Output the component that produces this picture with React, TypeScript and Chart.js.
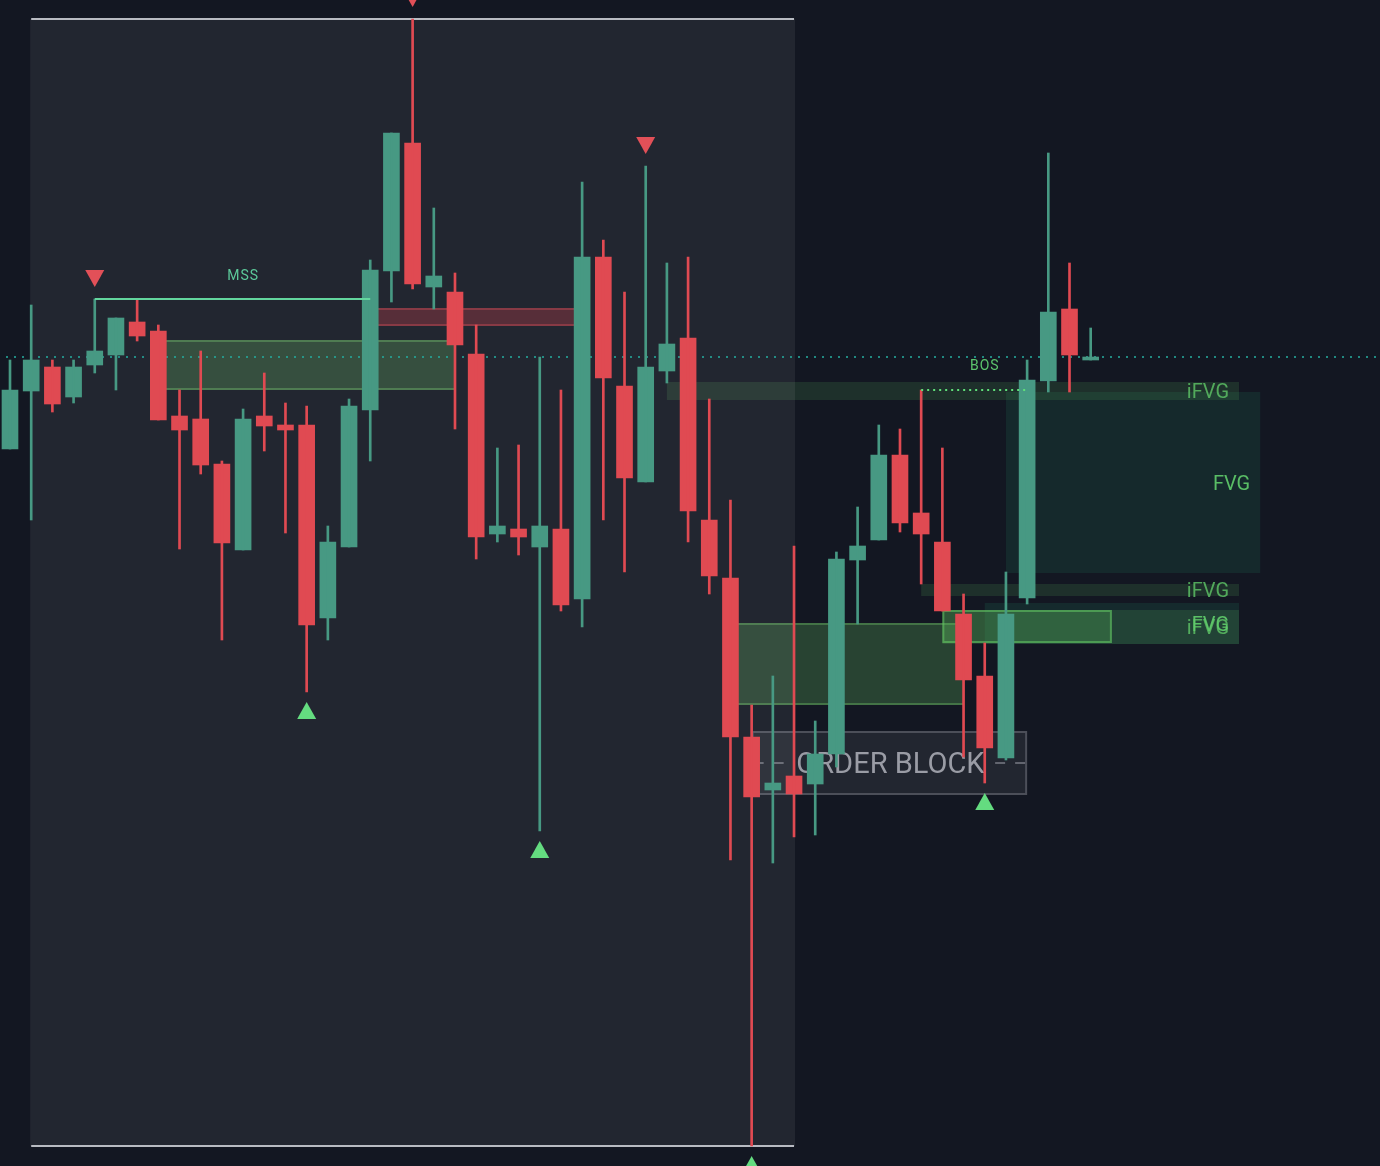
import React, { useEffect, useRef } from 'react';
import { Chart, registerables } from 'chart.js';

Chart.register(...registerables);

// ---- Candles (price units) ----
const OPEN = [717, 775, 799, 769, 801, 811, 844, 835, 750, 747, 702, 616, 750, 741, 741, 548, 619, 756, 895, 1023, 879, 874, 812, 632, 637, 619, 637, 567, 909, 780, 684, 795, 828, 646, 588, 429, 376, 390, 382, 412, 606, 626, 711, 653, 624, 552, 490, 408, 568, 785, 857, 806];
const HIGH = [806, 861, 806, 806, 867, 848, 866, 841, 776, 815, 705, 757, 793, 763, 760, 640, 767, 906, 1033, 1147, 958, 893, 841, 718, 721, 809, 776, 984, 926, 874, 1000, 903, 909, 767, 666, 461, 490, 620, 445, 614, 659, 741, 737, 776, 718, 572, 523, 594, 806, 1013, 903, 838];
const LOW = [717, 646, 754, 763, 793, 776, 825, 746, 617, 692, 526, 616, 715, 633, 474, 526, 619, 705, 864, 877, 857, 737, 607, 624, 611, 335, 555, 539, 646, 594, 684, 783, 624, 572, 306, 20, 303, 329, 331, 399, 542, 626, 634, 582, 555, 409, 383, 406, 562, 774, 774, 806];
const CLOSE = [776, 806, 762, 799, 815, 848, 830, 746, 736, 701, 623, 747, 740, 736, 541, 624, 760, 896, 1033, 882, 890, 821, 629, 640, 629, 640, 561, 909, 788, 688, 799, 822, 655, 590, 429, 369, 383, 372, 412, 607, 620, 711, 643, 632, 555, 486, 418, 552, 786, 854, 811, 809];

// ---- Structure / markers ----
const SWING_HIGHS = [4, 19, 30];
const SWING_LOWS = [14, 25, 35, 46];
const MSS_RANGE = [4, 17];
const MSS_LABEL_AT = 11;
const BOS_RANGE = [43, 48];
const BOS_LABEL_AT = 46;
const REF_LEVEL = 810;
const RANGE_BOX = [1, 37];

// ---- Zones: [fromIndex, toIndex, top, bottom] ----
const GREEN_ZONES = [[7, 21, 826, 776], [34, 45, 543, 461]];
const RED_ZONES = [[17, 27, 858, 840]];
const IFVG_ZONES = [[31, 58, 784, 766], [43, 58, 582, 570], [44, 58, 556, 522]];
const FVG_ZONES = [[47, 59, 774, 593], [46, 58, 563, 522]];
const OUTLINE_ZONE = [44, 52, 556, 523];
const ORDER_BLOCK = [35, 48, 435, 371];

const X_MIN = -0.472;
const X_MAX = 64.653;
const Y_MIN = 0;
const Y_MAX = 1166;

const BG = '#131722';
const UP = 'rgb(71,153,131)';
const DOWN = 'rgb(224,74,82)';

export default function App() {
  const ref = useRef<HTMLCanvasElement>(null);

  useEffect(() => {
    document.body.style.margin = '0';
    const canvas = ref.current!;
    const colors = OPEN.map((o, i) => (CLOSE[i] >= o ? UP : DOWN));

    const overlay = {
      id: 'overlay',
      beforeDraw(chart: any) {
        const ctx = chart.ctx;
        ctx.save();
        ctx.fillStyle = BG;
        ctx.fillRect(0, 0, chart.width, chart.height);
        ctx.restore();
      },
      beforeDatasetsDraw(chart: any) {
        const ctx = chart.ctx;
        const xs = chart.scales.x;
        const ys = chart.scales.y;
        const px = (v: number) => xs.getPixelForValue(v);
        const py = (v: number) => ys.getPixelForValue(v);
        ctx.save();

        const box = (z: number[], fill: string) => {
          const x0 = px(z[0]), x1 = px(z[1]), y0 = py(z[2]), y1 = py(z[3]);
          ctx.fillStyle = fill;
          ctx.fillRect(x0, y0, x1 - x0, y1 - y0);
          return { x0, x1, y0, y1 };
        };
        const hBorders = (r: any, color: string, w: number) => {
          ctx.fillStyle = color;
          ctx.fillRect(r.x0, r.y0, r.x1 - r.x0, w);
          ctx.fillRect(r.x0, r.y1 - w, r.x1 - r.x0, w);
        };
        const label = (r: any, text: string, color: string) => {
          ctx.font = '20px Roboto';
          ctx.fillStyle = color;
          ctx.textAlign = 'right';
          ctx.textBaseline = 'middle';
          ctx.fillText(text, r.x1 - 10, (r.y0 + r.y1) / 2 + 2);
        };

        // zones
        GREEN_ZONES.forEach((z) => {
          const r = box(z, 'rgba(90,170,90,0.30)');
          hBorders(r, 'rgba(100,175,95,0.45)', 2);
        });
        RED_ZONES.forEach((z) => {
          const r = box(z, 'rgba(230,60,72,0.27)');
          hBorders(r, 'rgba(230,70,80,0.35)', 2);
        });
        const fvgRects = FVG_ZONES.map((z, i) => box(z, i === 0 ? 'rgba(40,170,120,0.12)' : 'rgba(40,170,120,0.13)'));
        const ifvgRects = IFVG_ZONES.map((z, i) => box(z, i === 2 ? 'rgba(90,170,90,0.20)' : 'rgba(90,170,90,0.17)'));
        const o = box(OUTLINE_ZONE, 'rgba(90,190,90,0.25)');
        ctx.strokeStyle = 'rgba(100,200,100,0.55)';
        ctx.lineWidth = 2;
        ctx.strokeRect(o.x0 + 1, o.y0 + 1, o.x1 - o.x0 - 2, o.y1 - o.y0 - 2);

        ifvgRects.forEach((r) => label(r, 'iFVG', 'rgba(92,190,100,0.85)'));
        fvgRects.forEach((r) => label(r, 'FVG', 'rgba(96,205,108,0.9)'));

        // order block
        const ob = box(ORDER_BLOCK, 'rgba(255,255,255,0.065)');
        ctx.strokeStyle = '#4c4f59';
        ctx.lineWidth = 2;
        ctx.strokeRect(ob.x0 + 1, ob.y0 + 1, ob.x1 - ob.x0 - 2, ob.y1 - ob.y0 - 2);
        const cx = (ob.x0 + ob.x1) / 2;
        const cy = (ob.y0 + ob.y1) / 2;
        ctx.font = '29px Roboto';
        const tw = ctx.measureText('ORDER BLOCK').width;
        ctx.strokeStyle = '#62656f';
        ctx.setLineDash([10, 10]);
        ctx.beginPath();
        ctx.moveTo(ob.x0 + 2, cy);
        ctx.lineTo(cx - tw / 2 - 10, cy);
        ctx.moveTo(ob.x1 - 2, cy);
        ctx.lineTo(cx + tw / 2 + 10, cy);
        ctx.stroke();
        ctx.setLineDash([]);
        ctx.fillStyle = '#9a9ca5';
        ctx.textAlign = 'center';
        ctx.textBaseline = 'middle';
        ctx.fillText('ORDER BLOCK', cx + 1, cy + 3);

        // range shading
        const hi = Math.max(...HIGH.slice(RANGE_BOX[0], RANGE_BOX[1] + 1));
        const lo = Math.min(...LOW.slice(RANGE_BOX[0], RANGE_BOX[1] + 1));
        const sx0 = px(RANGE_BOX[0]) - 1, sx1 = px(RANGE_BOX[1]) + 1;
        const sy0 = py(hi), sy1 = py(lo);
        ctx.fillStyle = 'rgba(255,255,255,0.068)';
        ctx.fillRect(sx0, sy0, sx1 - sx0, sy1 - sy0);
        ctx.fillStyle = '#b8bbc2';
        ctx.fillRect(sx0 + 1, sy0 - 1, sx1 - sx0 - 2, 2);
        ctx.fillRect(sx0 + 1, sy1 - 1, sx1 - sx0 - 2, 2);

        // reference dotted level
        const ry = py(REF_LEVEL);
        ctx.strokeStyle = 'rgba(38,166,154,0.8)';
        ctx.lineWidth = 2;
        ctx.setLineDash([2, 6]);
        ctx.beginPath();
        ctx.moveTo(6, ry + 1);
        ctx.lineTo(chart.width, ry + 1);
        ctx.stroke();
        ctx.setLineDash([]);

        ctx.restore();
      },
      afterDatasetsDraw(chart: any) {
        const ctx = chart.ctx;
        const xs = chart.scales.x;
        const ys = chart.scales.y;
        const px = (v: number) => xs.getPixelForValue(v);
        const py = (v: number) => ys.getPixelForValue(v);
        ctx.save();

        // MSS
        const my = py(HIGH[MSS_RANGE[0]]);
        ctx.fillStyle = '#63d69e';
        ctx.fillRect(px(MSS_RANGE[0]), my - 1, px(MSS_RANGE[1]) - px(MSS_RANGE[0]), 2);
        ctx.font = '14px Roboto';
        (ctx as any).letterSpacing = '1px';
        ctx.fillStyle = '#5cc99a';
        ctx.textAlign = 'center';
        ctx.textBaseline = 'middle';
        ctx.fillText('MSS', px(MSS_LABEL_AT), my - 23);

        // BOS
        const by = py(HIGH[BOS_RANGE[0]]);
        ctx.strokeStyle = '#5fe07a';
        ctx.lineWidth = 2;
        ctx.setLineDash([2, 4]);
        ctx.beginPath();
        ctx.moveTo(px(BOS_RANGE[0]), by);
        ctx.lineTo(px(BOS_RANGE[1]), by);
        ctx.stroke();
        ctx.setLineDash([]);
        ctx.fillStyle = '#5cc46d';
        ctx.fillText('BOS', px(BOS_LABEL_AT), by - 24);
        (ctx as any).letterSpacing = '0px';

        // swing markers
        ctx.fillStyle = 'rgb(226,80,88)';
        SWING_HIGHS.forEach((i) => {
          const x = px(i);
          const tip = py(HIGH[i]) - 12;
          ctx.beginPath();
          ctx.moveTo(x, tip);
          ctx.lineTo(x - 9.5, tip - 17);
          ctx.lineTo(x + 9.5, tip - 17);
          ctx.closePath();
          ctx.fill();
        });
        ctx.fillStyle = 'rgb(100,220,128)';
        SWING_LOWS.forEach((i) => {
          const x = px(i);
          const tip = py(LOW[i]) + 10;
          ctx.beginPath();
          ctx.moveTo(x, tip);
          ctx.lineTo(x - 9.5, tip + 17);
          ctx.lineTo(x + 9.5, tip + 17);
          ctx.closePath();
          ctx.fill();
        });
        ctx.restore();
      },
    };

    const chart = new Chart(canvas, {
      type: 'bar',
      data: {
        datasets: [
          {
            data: OPEN.map((_, i) => ({ x: i, y: [LOW[i], HIGH[i]] })) as any,
            backgroundColor: colors,
            barThickness: 2,
            grouped: false,
            borderWidth: 0,
          },
          {
            data: OPEN.map((o, i) => ({ x: i, y: [o, CLOSE[i]] })) as any,
            backgroundColor: colors,
            barThickness: 16,
            grouped: false,
            borderWidth: 0,
          },
        ],
      },
      options: {
        responsive: false,
        animation: false,
        devicePixelRatio: 1,
        layout: { padding: 0 },
        scales: {
          x: { type: 'linear', min: X_MIN, max: X_MAX, display: false, offset: false },
          y: { type: 'linear', min: Y_MIN, max: Y_MAX, display: false },
        },
        plugins: { legend: { display: false }, tooltip: { enabled: false } },
      } as any,
      plugins: [overlay],
    });
    return () => chart.destroy();
  }, []);

  return (
    <div style={{ position: 'fixed', left: 0, top: 0, width: 1380, height: 1166, background: BG }}>
      <canvas ref={ref} width={1380} height={1166} style={{ display: 'block', width: 1380, height: 1166 }} />
    </div>
  );
}
